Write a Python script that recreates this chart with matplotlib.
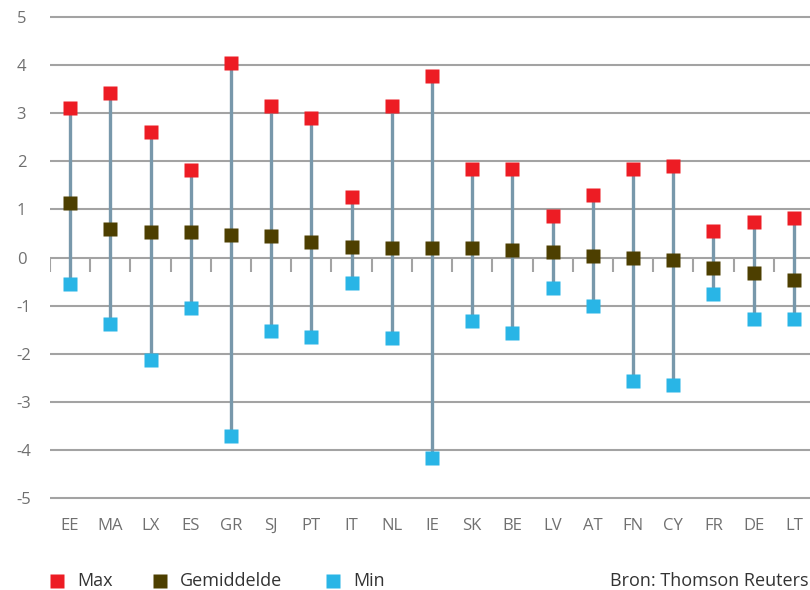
import numpy as np
import matplotlib
matplotlib.use("Agg")
import matplotlib.pyplot as plt
from matplotlib.lines import Line2D

plt.rcParams["font.family"] = ["Open Sans", "DejaVu Sans"]

# spread per country: max, average, min
countries = ["EE", "MA", "LX", "ES", "GR", "SJ", "PT", "IT", "NL", "IE",
             "SK", "BE", "LV", "AT", "FN", "CY", "FR", "DE", "LT"]
max_vals = [3.10, 3.41, 2.60, 1.81, 4.05, 3.16, 2.89, 1.25, 3.16, 3.78,
            1.83, 1.83, 0.87, 1.29, 1.83, 1.91, 0.56, 0.73, 0.83]
avg_vals = [1.14, 0.60, 0.54, 0.52, 0.46, 0.44, 0.33, 0.21, 0.19, 0.19,
            0.19, 0.15, 0.12, 0.04, 0.00, -0.06, -0.21, -0.33, -0.46]
min_vals = [-0.56, -1.39, -2.14, -1.06, -3.72, -1.52, -1.66, -0.54, -1.68, -4.16,
            -1.33, -1.58, -0.64, -1.00, -2.56, -2.66, -0.75, -1.27, -1.27]
yticks = [5, 4, 3, 2, 1, 0, -1, -2, -3, -4, -5]
legend_labels = ["Max", "Gemiddelde", "Min"]

RED = "#ed1c24"
DARK = "#4d3f00"
CYAN = "#29b5e6"
STEM = "#7898ab"
GRID = "#a3a3a3"
TXT = "#707070"

W, H = 810, 590
fig = plt.figure(figsize=(W / 100, H / 100), dpi=100)
ylo, yhi = -5.06, 5.06
ppu = (498 - 17) / 10.0
top_px = 17 - (yhi - 5) * ppu
bot_px = 498 + (-5 - ylo) * ppu
# plot runs a little past the right edge of the canvas
ax = fig.add_axes([50 / W, 1 - bot_px / H, 764 / W, (bot_px - top_px) / H])

x = np.arange(len(countries))
ax.set_xlim(-0.5, len(countries) - 0.5)
ax.set_ylim(ylo, yhi)

for y in yticks:
    ax.axhline(y, color=GRID, lw=1.5, zorder=1)

# small ticks hanging from the zero line at category boundaries
bounds = np.arange(len(countries) + 1) - 0.5
ax.vlines(bounds, -0.3, 0, color=GRID, lw=1.5, zorder=1)

ax.vlines(x, min_vals, max_vals, color=STEM, lw=2.4, zorder=2)
ax.plot(x, max_vals, "s", ms=10, color=RED, mec="none", zorder=3, clip_on=False)
ax.plot(x, avg_vals, "s", ms=10, color=DARK, mec="none", zorder=3, clip_on=False)
ax.plot(x, min_vals, "s", ms=10, color=CYAN, mec="none", zorder=3, clip_on=False)

for s in ax.spines.values():
    s.set_visible(False)
ax.set_yticks(yticks)
ax.set_yticklabels([str(v) for v in yticks])
ax.set_xticks(x)
ax.set_xticklabels(countries)
ax.tick_params(axis="both", length=0, colors=TXT, labelsize=12)
ax.tick_params(axis="y", pad=24)
ax.tick_params(axis="x", pad=12)
for lab in ax.get_yticklabels():
    lab.set_horizontalalignment("left")

# legend row along the bottom
leg_y = 1 - 581 / H
for lab, col, mx, tx in zip(legend_labels, [RED, DARK, CYAN],
                            [57, 160, 333], [77, 180, 353]):
    fig.add_artist(Line2D([mx / W], [leg_y], ls="none", marker="s", ms=10,
                          color=col, mec="none", transform=fig.transFigure))
    fig.text(tx / W, leg_y, lab, ha="left", va="center", fontsize=13, color="#333333")
fig.text(808 / W, leg_y, "Bron: Thomson Reuters", ha="right", va="center",
         fontsize=13, color="#333333")

fig.savefig("out.png", dpi=100)
